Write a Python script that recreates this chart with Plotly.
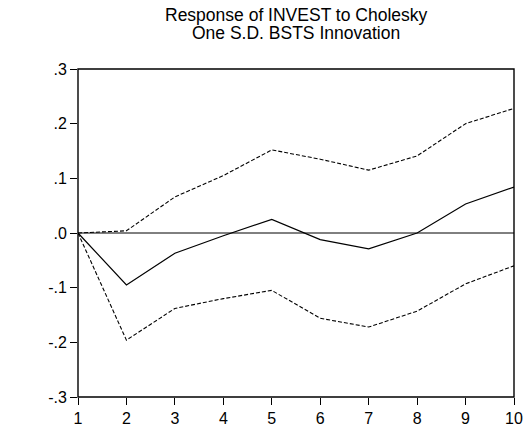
import plotly.graph_objects as go

periods = [1, 2, 3, 4, 5, 6, 7, 8, 9, 10]
response = [0.0, -0.095, -0.037, -0.005, 0.025, -0.012, -0.029, 0.0, 0.053, 0.084]
upper = [0.0, 0.004, 0.066, 0.105, 0.152, 0.135, 0.115, 0.141, 0.200, 0.228]
lower = [0.0, -0.196, -0.138, -0.120, -0.105, -0.156, -0.172, -0.143, -0.093, -0.060]
ytick_vals = [-0.3, -0.2, -0.1, 0.0, 0.1, 0.2, 0.3]
ytick_text = ["-.3", "-.2", "-.1", ".0", ".1", ".2", ".3"]
title_lines = ["Response of INVEST to Cholesky", "One S.D. BSTS Innovation"]

FONT = "Liberation Sans, Arial, sans-serif"

fig = go.Figure()
fig.add_trace(go.Scatter(x=periods, y=upper, mode="lines",
                         line=dict(color="black", width=1.1, dash="4px,2px")))
fig.add_trace(go.Scatter(x=periods, y=lower, mode="lines",
                         line=dict(color="black", width=1.1, dash="4px,2px")))
fig.add_trace(go.Scatter(x=periods, y=response, mode="lines",
                         line=dict(color="black", width=1.2)))

fig.add_shape(type="line", xref="paper", x0=0, x1=1, yref="y", y0=0, y1=0,
              line=dict(color="black", width=1))
fig.add_shape(type="rect", xref="paper", x0=0, x1=1, yref="paper", y0=0, y1=1,
              line=dict(color="black", width=1.4), fillcolor="rgba(0,0,0,0)")

# plot area: x 78..514, y 69..397 (height 328)
for txt, yy in zip(title_lines, [1 + (69 - 14.7) / 328, 1 + (69 - 33.3) / 328]):
    fig.add_annotation(text=txt, xref="paper", yref="paper", x=0.5, y=yy,
                       xanchor="center", yanchor="middle", showarrow=False,
                       font=dict(family=FONT, size=17.5, color="black"))

fig.update_layout(
    template="none",
    width=527, height=430,
    margin=dict(l=78, r=13, t=69, b=33, pad=0),
    paper_bgcolor="white", plot_bgcolor="white",
    showlegend=False,
    font=dict(family=FONT, size=15, color="black"),
    xaxis=dict(range=[1, 10], tickvals=periods, ticks="outside", ticklen=7,
               tickcolor="black", tickwidth=1, showgrid=False, zeroline=False,
               showline=False, automargin=False, tickfont=dict(size=16)),
    yaxis=dict(range=[-0.3, 0.3], tickvals=ytick_vals, ticktext=ytick_text,
               ticks="outside", ticklen=7, tickcolor="black", tickwidth=1,
               showgrid=False, zeroline=False, showline=False,
               automargin=False, tickfont=dict(size=16)),
)

fig.write_html("out.html",
               config=dict(displayModeBar=False),
               post_script="document.body.style.margin='0';"
                           "document.body.style.overflow='hidden';")
